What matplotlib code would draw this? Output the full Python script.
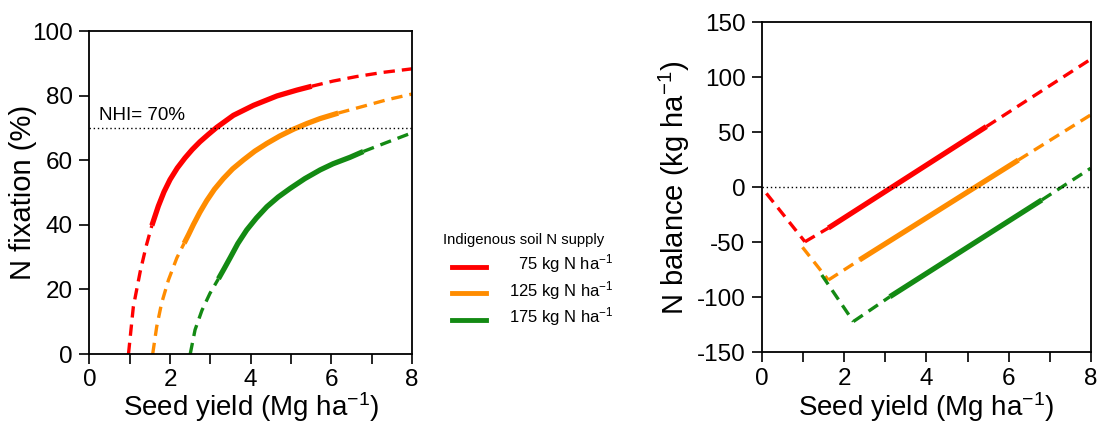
import matplotlib
matplotlib.use("Agg")
import matplotlib.pyplot as plt
from matplotlib.lines import Line2D
import numpy as np

plt.rcParams["font.family"] = ["Liberation Sans", "DejaVu Sans"]
plt.rcParams["axes.unicode_minus"] = False
plt.rcParams["mathtext.fontset"] = "custom"
plt.rcParams["mathtext.rm"] = "Liberation Sans"
plt.rcParams["mathtext.it"] = "Liberation Sans:italic"
plt.rcParams["mathtext.default"] = "regular"

# soil N supply levels and line colours
supply_labels = ["75", "125", "175"]
colors = ["#ff0000", "#ff8c00", "#138a13"]

# N fixation (%) vs seed yield (Mg/ha)
fix_x = [
    [0.97, 1.09, 1.26, 1.41, 1.55, 1.71, 1.85, 2.00, 2.18, 2.37, 2.55, 2.74,
     2.95, 3.16, 3.57, 4.07, 4.65, 5.14, 5.51, 6.04, 6.62, 7.28, 8.0],
    [1.57, 1.67, 1.79, 1.96, 2.17, 2.35, 2.46, 2.58, 2.74, 2.91, 3.10, 3.32,
     3.55, 3.82, 4.10, 4.40, 4.72, 5.06, 5.40, 5.72, 6.17, 6.79, 7.37, 8.0],
    [2.50, 2.62, 2.79, 2.99, 3.20, 3.34, 3.49, 3.68, 3.90, 4.14, 4.40, 4.68,
     4.98, 5.34, 5.72, 6.04, 6.46, 6.79, 7.37, 8.0],
]
fix_y = [
    [0, 14.6, 25.5, 33.5, 39.8, 45.8, 50.2, 54.0, 57.6, 60.7, 63.3, 65.7,
     68.0, 70.2, 73.9, 77.0, 79.9, 81.7, 82.9, 84.5, 85.9, 87.2, 88.3],
    [0, 8.5, 15.7, 22.9, 29.8, 34.3, 37.0, 40.1, 43.9, 47.5, 51.0, 54.3,
     57.3, 60.1, 62.8, 65.2, 67.5, 69.6, 71.4, 72.9, 74.6, 76.7, 78.7, 80.5],
    [0, 7.5, 13.5, 18.8, 23.3, 26.4, 29.8, 34.2, 38.4, 42.1, 45.6, 48.6,
     51.3, 54.3, 57.0, 58.9, 60.9, 62.7, 65.5, 68.5],
]
# yield range covered by observations (solid part of each curve)
fix_solid = [(1.55, 5.51), (2.35, 6.17), (3.20, 6.79)]

# N balance (kg/ha): falling branch and rising branch of each line
bal_down_x = [[0.10, 1.04], [0.98, 1.61], [1.45, 2.22]]
bal_down_y = [[-5.5, -49.5], [-54.5, -84.3], [-79.7, -122.0]]
bal_up_x = [[1.04, 1.61, 5.46, 8.0], [1.61, 2.37, 6.24, 8.0], [2.22, 3.11, 6.81, 8.0]]
bal_up_y = [[-49.5, -37.0, 55.2, 116.4], [-84.3, -66.0, 24.8, 65.8], [-122.0, -99.4, -11.5, 17.3]]
bal_solid = [(1.61, 5.46), (2.37, 6.24), (3.11, 6.81)]

nhi = 70

DASH_LW = 2.4
SOLID_LW = 3.8
DASHES = (3.4, 2.1)


def draw_split(ax, x, y, lo, hi, color):
    x = np.asarray(x, float)
    y = np.asarray(y, float)
    low = x <= lo
    mid = (x >= lo) & (x <= hi)
    high = x >= hi
    ax.plot(x[low], y[low], color=color, lw=DASH_LW, dashes=DASHES, dash_capstyle="butt")
    ax.plot(x[high], y[high], color=color, lw=DASH_LW, dashes=DASHES, dash_capstyle="butt")
    ax.plot(x[mid], y[mid], color=color, lw=SOLID_LW, solid_capstyle="butt",
            solid_joinstyle="round")


def style_axes(ax):
    for sp in ax.spines.values():
        sp.set_linewidth(1.3)
    ax.set_xlim(0, 8)
    ax.set_xticks(np.arange(0, 9, 2))
    ax.set_xticks(np.arange(1, 9, 2), minor=True)
    ax.tick_params(axis="both", which="major", direction="out", length=7, width=1.2,
                   labelsize=17.5)
    ax.tick_params(axis="x", which="major", pad=4)
    ax.tick_params(axis="y", which="major", pad=5)
    ax.tick_params(axis="x", which="minor", direction="out", length=7, width=1.2)
    ax.set_xlabel("Seed yield (Mg ha$^{-1}$)", fontsize=20)


fig = plt.figure(figsize=(10.99, 4.25), dpi=100)
ax1 = fig.add_axes([0.0813, 0.167, 0.2937, 0.760])
ax2 = fig.add_axes([0.6936, 0.171, 0.2988, 0.7765])

# left: N fixation
for i in range(3):
    draw_split(ax1, fix_x[i], fix_y[i], fix_solid[i][0], fix_solid[i][1], colors[i])
ax1.plot([0, 8], [nhi, nhi], color="black", lw=1.0, ls=(0, (1, 2)))
ax1.text(0.25, nhi + 2.5, f"NHI= {nhi}%", fontsize=13.5)
ax1.set_ylim(0, 100)
ax1.set_yticks(np.arange(0, 101, 20))
style_axes(ax1)
ax1.set_ylabel("N fixation (%)", fontsize=21)
ax1.yaxis.set_label_coords(-0.162, 0.5)
ax1.xaxis.set_label_coords(0.5, -0.112)

# right: N balance
for i in range(3):
    ax2.plot(bal_down_x[i], bal_down_y[i], color=colors[i], lw=DASH_LW, dashes=DASHES,
             dash_capstyle="butt")
    draw_split(ax2, bal_up_x[i], bal_up_y[i], bal_solid[i][0], bal_solid[i][1], colors[i])
ax2.plot([0, 8], [0, 0], color="black", lw=1.0, ls=(0, (1, 2)))
ax2.set_ylim(-150, 150)
ax2.set_yticks(np.arange(-150, 151, 50))
style_axes(ax2)
ax2.set_ylabel("N balance (kg ha$^{-1}$)", fontsize=21)
ax2.yaxis.set_label_coords(-0.214, 0.5)
ax2.xaxis.set_label_coords(0.5, -0.115)

# legend drawn between the panels
fig.text(443 / 1099, 1 - 240 / 425, "Indigenous soil N supply", fontsize=10.7,
         ha="left", va="center")
for i, lab in enumerate(supply_labels):
    ly = 1 - (266.5 + 26.5 * i) / 425
    fig.add_artist(Line2D([452 / 1099, 486 / 1099], [ly, ly], color=colors[i], lw=3.5,
                          transform=fig.transFigure))
    fig.text(613 / 1099, ly + 0.006, f"{lab} kg N ha$^{{-1}}$", fontsize=12, ha="right",
             va="center")

fig.savefig("out.png", dpi=100)
